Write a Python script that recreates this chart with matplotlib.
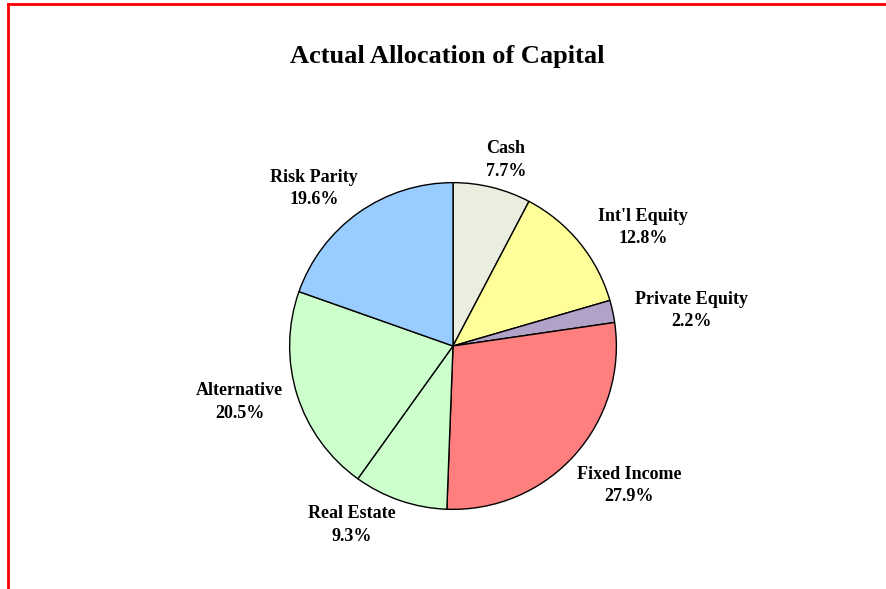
import matplotlib.pyplot as plt

# data
categories = ['Cash', "Int'l Equity", 'Private Equity', 'Fixed Income',
              'Real Estate', 'Alternative', 'Risk Parity']
shares = [7.7, 12.8, 2.2, 27.9, 9.3, 20.5, 19.6]
colors = ['#EAEEDF', '#FFFF99', '#B3A2C7', '#FF7F7F',
          '#CCFFCC', '#CCFFCC', '#99CCFF']
# label centres, in pie-radius units from the centre
label_x = [0.325, 1.163, 1.458, 1.078, -0.620, -1.307, -0.849]
label_y = [1.139, 0.723, 0.217, -0.855, -1.096, -0.343, 0.964]

plt.rcParams['font.family'] = ['Liberation Serif', 'DejaVu Serif']

fig = plt.figure(figsize=(8.87, 5.89), dpi=100)
fig.set_facecolor('white')

# red frame (top and left only)
fig.add_artist(plt.Line2D([8 / 887, 8 / 887], [0, 1 - 4 / 589], color='red', lw=2))
fig.add_artist(plt.Line2D([8 / 887, 1], [1 - 4 / 589, 1 - 4 / 589], color='red', lw=2))

# pie axes: centre (453, 346), radius ~164 px
r = 165
ax = fig.add_axes([(453 - r) / 887, 1 - (346 + r) / 589, 2 * r / 887, 2 * r / 589])
wedges, _ = ax.pie(shares, colors=colors, startangle=90, counterclock=False,
                   radius=1, wedgeprops=dict(edgecolor='black', linewidth=1))
ax.set_xlim(-1.01, 1.01)
ax.set_ylim(-1.01, 1.01)
ax.set_aspect('auto')
ax.axis('off')

# labels
for name, val, lx, ly in zip(categories, shares, label_x, label_y):
    ax.text(lx, ly, '%s\n%.1f%%' % (name, val),
            ha='center', va='center', fontsize=13, fontweight='bold',
            linespacing=1.4, clip_on=False)

fig.text(447 / 887, 1 - 57 / 589, 'Actual Allocation of Capital',
         ha='center', va='center', fontsize=19, fontweight='bold')

plt.savefig('out.png', dpi=100)
